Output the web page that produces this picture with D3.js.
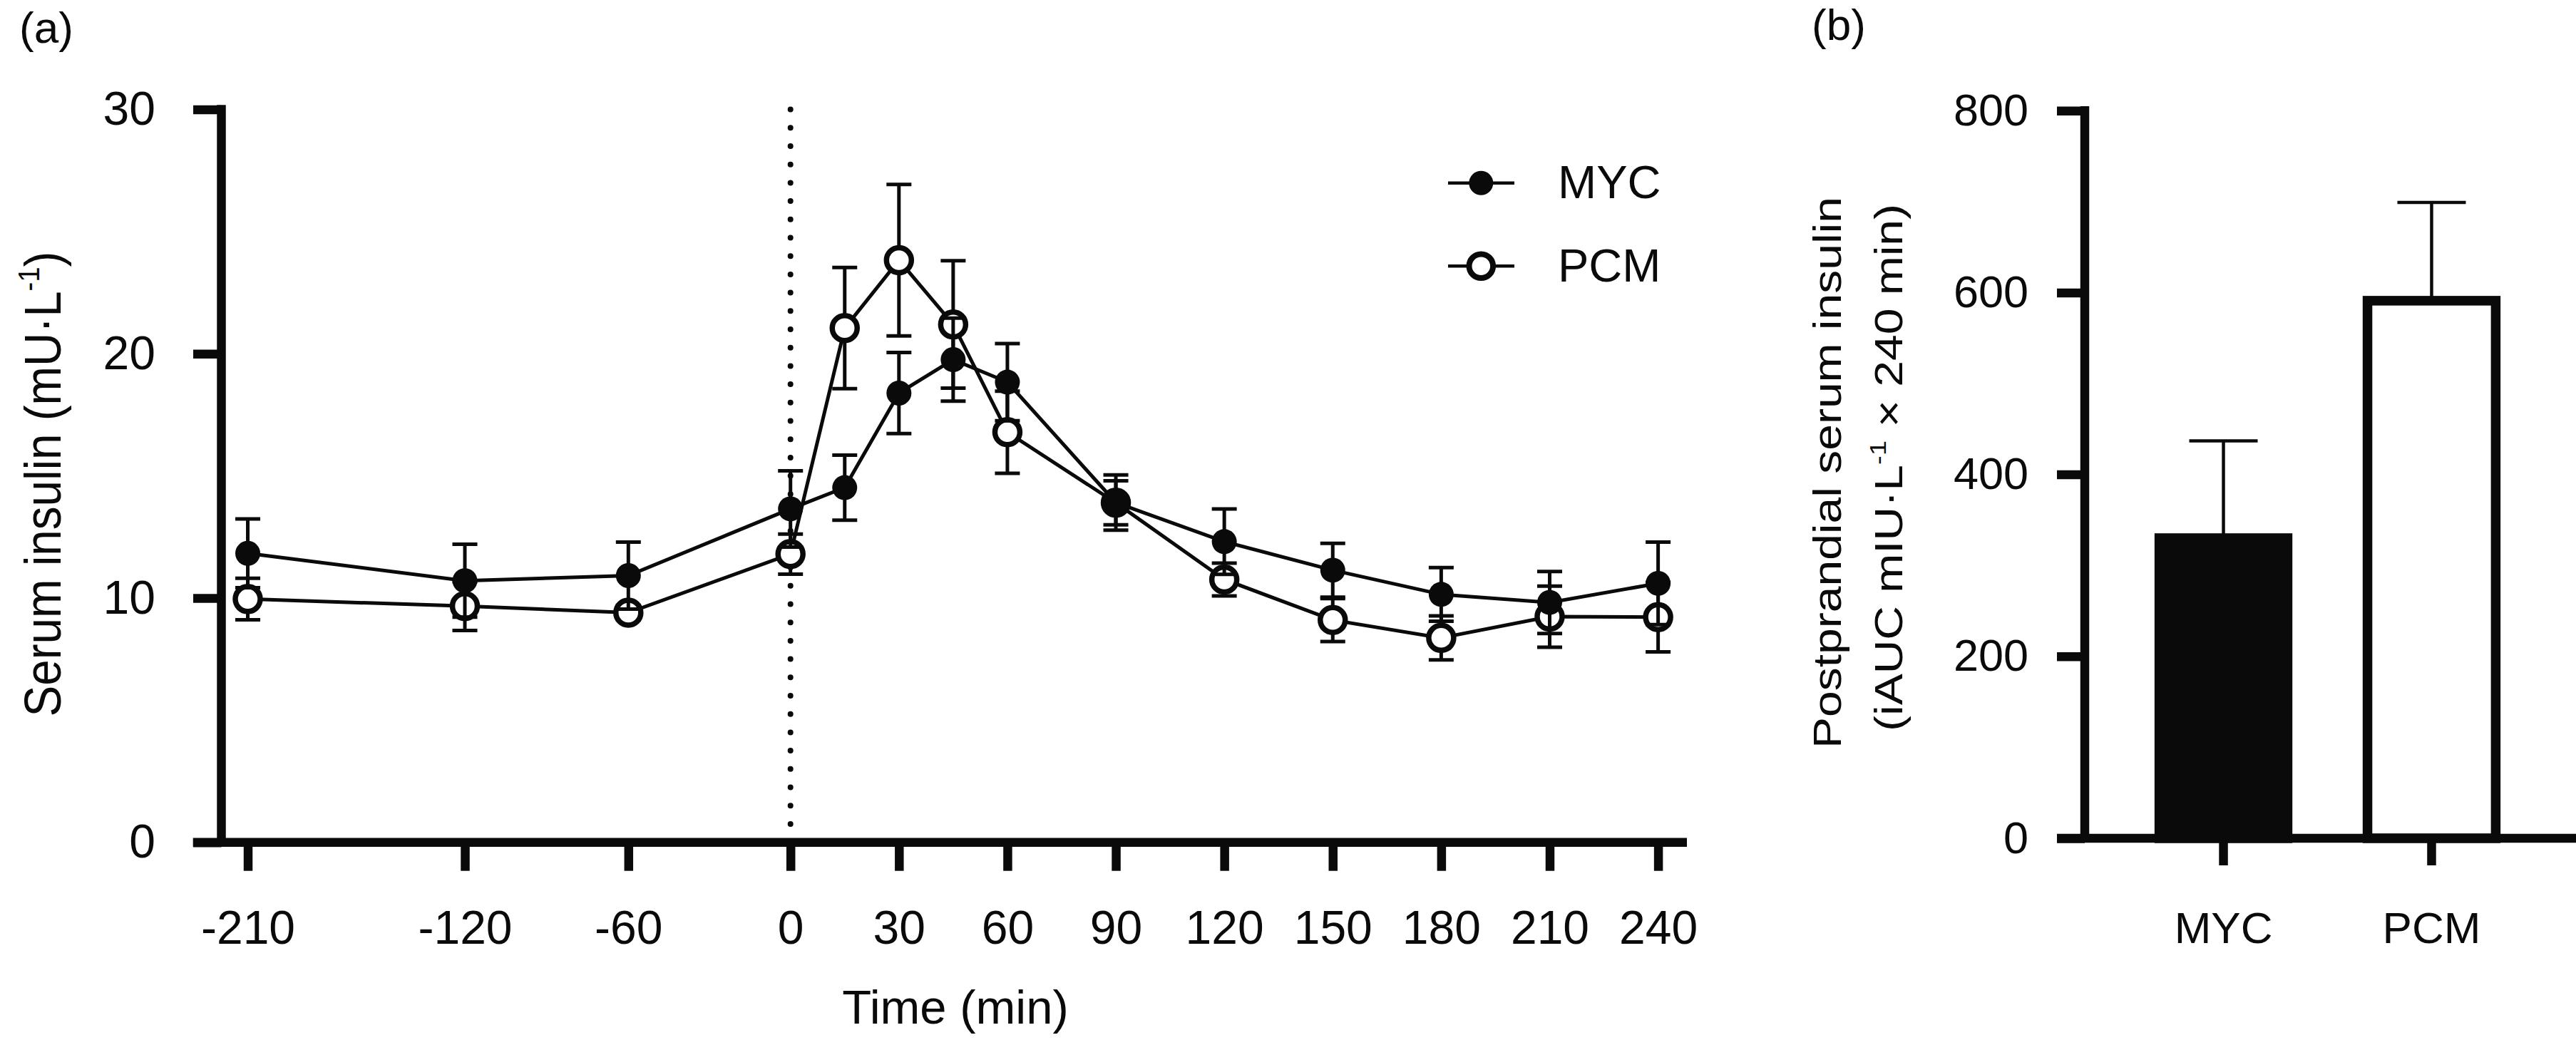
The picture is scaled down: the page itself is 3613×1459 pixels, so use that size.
<!DOCTYPE html>
<html>
<head>
<meta charset="utf-8">
<title>Serum insulin MYC vs PCM</title>
<script src="https://d3js.org/d3.v7.min.js"></script>
<style>
  body { margin: 0; background: #fff; }
  svg text { font-family: "Liberation Sans", Arial, Helvetica, sans-serif; fill: #0a0a0a; }
</style>
</head>
<body>
<svg id="chart" width="3613" height="1459"></svg>
<script>
// (a) serum insulin time course, mean and SEM
var times = [-210, -120, -60, 0, 15, 30, 45, 60, 90, 120, 150, 180, 210, 240];
var mycMean = [11.83, 10.71, 10.92, 13.65, 14.52, 18.39, 19.76, 18.84, 13.91, 12.31, 11.14, 10.15, 9.82, 10.6];
var mycSem  = [1.41, 1.49, 1.37, 1.56, 1.33, 1.66, 1.7, 1.58, 1.13, 1.34, 1.1, 1.1, 1.27, 1.69];
var pcmMean = [9.96, 9.67, 9.4, 11.8, 21.05, 23.83, 21.2, 16.79, 13.9, 10.76, 9.1, 8.37, 9.24, 9.22];
var pcmSem  = [0.85, 1.0, 0.3, 0.82, 2.48, 3.1, 2.61, 1.68, 0.9, 0.67, 0.88, 0.9, 1.25, 1.42];
var timeTicks = [-210, -120, -60, 0, 30, 60, 90, 120, 150, 180, 210, 240];
var insulinTicks = [0, 10, 20, 30];

// (b) postprandial iAUC
var groups = ["MYC", "PCM"];
var aucMean = [330, 591];
var aucSem = [107, 108];
var aucTicks = [0, 200, 400, 600, 800];

var ink = "#0a0a0a";
var svg = d3.select("#chart");

// ---------- panel (a) ----------
// pre-meal samples sit closer together, so x is piecewise linear
var x = d3.scaleLinear()
    .domain([-210, -120, -60, 0, 240])
    .range([347.5, 652, 881.3, 1108.7, 2325.6]);
var y = d3.scaleLinear().domain([0, 30]).range([1181.7, 153.6]);

var ga = svg.append("g");

var yAxisA = ga.append("g")
    .attr("transform", "translate(310.5,0)")
    .call(d3.axisLeft(y).tickValues(insulinTicks).tickSize(39.5).tickPadding(53));
var xAxisA = ga.append("g")
    .attr("transform", "translate(0,1181.7)")
    .call(d3.axisBottom(x).tickValues(timeTicks).tickSize(40).tickPadding(55)
        .tickFormat(function(d) { return String(d); }));

[yAxisA, xAxisA].forEach(function(g) {
    g.select(".domain").remove();
    g.attr("font-size", 66);
    g.selectAll(".tick line").attr("stroke", ink).attr("stroke-width", 12.5);
});

ga.append("line")
    .attr("x1", 310.5).attr("x2", 310.5)
    .attr("y1", y(30) - 6.25).attr("y2", y(0))
    .attr("stroke", ink).attr("stroke-width", 12.5);
ga.append("line")
    .attr("x1", 270.7).attr("x2", 2366)
    .attr("y1", y(0)).attr("y2", y(0))
    .attr("stroke", ink).attr("stroke-width", 12.5);

// meal at t = 0
ga.append("line")
    .attr("x1", x(0)).attr("x2", x(0))
    .attr("y1", y(30)).attr("y2", y(0) - 8)
    .attr("stroke", ink).attr("stroke-width", 8)
    .attr("stroke-linecap", "round")
    .attr("stroke-dasharray", "0 25.7");

var line = d3.line()
    .x(function(d) { return x(d.t); })
    .y(function(d) { return y(d.m); });

function drawSeries(mean, sem, filled) {
    var pts = times.map(function(t, i) { return { t: t, m: mean[i], s: sem[i] }; });
    var g = ga.append("g");
    var eb = g.selectAll(".eb").data(pts).enter().append("g")
        .attr("stroke", ink).attr("stroke-width", 5);
    eb.append("line")
        .attr("x1", function(d) { return x(d.t); }).attr("x2", function(d) { return x(d.t); })
        .attr("y1", function(d) { return y(d.m - d.s); }).attr("y2", function(d) { return y(d.m + d.s); });
    eb.append("line")
        .attr("x1", function(d) { return x(d.t) - 17.5; }).attr("x2", function(d) { return x(d.t) + 17.5; })
        .attr("y1", function(d) { return y(d.m + d.s); }).attr("y2", function(d) { return y(d.m + d.s); });
    eb.append("line")
        .attr("x1", function(d) { return x(d.t) - 17.5; }).attr("x2", function(d) { return x(d.t) + 17.5; })
        .attr("y1", function(d) { return y(d.m - d.s); }).attr("y2", function(d) { return y(d.m - d.s); });
    g.append("path").datum(pts)
        .attr("d", line).attr("fill", "none")
        .attr("stroke", ink).attr("stroke-width", 5);
    g.selectAll("circle").data(pts).enter().append("circle")
        .attr("cx", function(d) { return x(d.t); })
        .attr("cy", function(d) { return y(d.m); })
        .attr("r", filled ? 17.5 : 17.5)
        .attr("fill", filled ? ink : "#fff")
        .attr("stroke", filled ? "none" : ink)
        .attr("stroke-width", 7.5);
}
drawSeries(pcmMean, pcmSem, false);
drawSeries(mycMean, mycSem, true);

// legend
var legend = ga.append("g");
[["MYC", 256.7, true], ["PCM", 373.3, false]].forEach(function(L) {
    legend.append("line")
        .attr("x1", 2031).attr("x2", 2124).attr("y1", L[1]).attr("y2", L[1])
        .attr("stroke", ink).attr("stroke-width", 4.5);
    legend.append("circle")
        .attr("cx", 2077.3).attr("cy", L[1])
        .attr("r", L[2] ? 17 : 16.8)
        .attr("fill", L[2] ? ink : "#fff")
        .attr("stroke", L[2] ? "none" : ink)
        .attr("stroke-width", 8);
    legend.append("text")
        .attr("x", 2185).attr("y", L[1] + 21.6)
        .attr("font-size", 65).text(L[0]);
});

// titles
ga.append("text").attr("x", 27).attr("y", 60).attr("font-size", 62).text("(a)");
ga.append("text").attr("x", 1340).attr("y", 1436)
    .attr("font-size", 67).attr("text-anchor", "middle").text("Time (min)");

var yt = ga.append("text")
    .attr("transform", "translate(85,679) rotate(-90) scale(0.91,1)")
    .attr("font-size", 72).attr("text-anchor", "middle");
yt.append("tspan").text("Serum insulin (mU\u00B7L");
yt.append("tspan").attr("font-size", 42).attr("dy", -30).text("-1");
yt.append("tspan").attr("dy", 30).text(")");

// ---------- panel (b) ----------
var xb = d3.scaleBand().domain(groups)
    .range([2920, 3609]).paddingInner(0.384).paddingOuter(0.372);
var yb = d3.scaleLinear().domain([0, 800]).range([1176, 155.2]);

var gb = svg.append("g");
var bars = groups.map(function(g, i) { return { g: g, m: aucMean[i], s: aucSem[i] }; });

gb.selectAll(".eb").data(bars).enter().append("g")
    .attr("stroke", ink).attr("stroke-width", 4.5)
    .each(function(d) {
        var cx = xb(d.g) + xb.bandwidth() / 2;
        d3.select(this).append("line")
            .attr("x1", cx).attr("x2", cx).attr("y1", yb(d.m)).attr("y2", yb(d.m + d.s));
        d3.select(this).append("line")
            .attr("x1", cx - 48).attr("x2", cx + 48).attr("y1", yb(d.m + d.s)).attr("y2", yb(d.m + d.s));
    });

gb.selectAll("rect").data(bars).enter().append("rect")
    .attr("x", function(d) { return xb(d.g); })
    .attr("y", function(d) { return yb(d.m); })
    .attr("width", xb.bandwidth())
    .attr("height", function(d) { return yb(0) - yb(d.m); })
    .attr("fill", function(d, i) { return i === 0 ? ink : "#fff"; })
    .attr("stroke", ink).attr("stroke-width", 13.5);

var yAxisB = gb.append("g")
    .attr("transform", "translate(2924,0)")
    .call(d3.axisLeft(yb).tickValues(aucTicks).tickSize(39).tickPadding(40));
var xAxisB = gb.append("g")
    .attr("transform", "translate(0,1176)")
    .call(d3.axisBottom(xb).tickSize(38).tickPadding(65));
yAxisB.attr("font-size", 63);
xAxisB.attr("font-size", 62);
[yAxisB, xAxisB].forEach(function(g) {
    g.select(".domain").remove();
    g.selectAll(".tick line").attr("stroke", ink).attr("stroke-width", 12.5);
});

gb.append("line")
    .attr("x1", 2924).attr("x2", 2924)
    .attr("y1", yb(800) - 6.25).attr("y2", yb(0))
    .attr("stroke", ink).attr("stroke-width", 12.5);
gb.append("line")
    .attr("x1", 2885).attr("x2", 3613)
    .attr("y1", yb(0)).attr("y2", yb(0))
    .attr("stroke", ink).attr("stroke-width", 12.5);

gb.append("text").attr("x", 2541).attr("y", 56).attr("font-size", 62).text("(b)");

gb.append("text")
    .attr("transform", "translate(2582,663) rotate(-90) scale(1.2,1)")
    .attr("font-size", 55).attr("text-anchor", "middle")
    .text("Postprandial serum insulin");
var yt2 = gb.append("text")
    .attr("transform", "translate(2668,656) rotate(-90) scale(1.2,1)")
    .attr("font-size", 55).attr("text-anchor", "middle");
yt2.append("tspan").text("(iAUC mIU\u00B7L");
yt2.append("tspan").attr("font-size", 32).attr("dy", -23).text("-1");
yt2.append("tspan").attr("dy", 23).text(" \u00D7 240 min)");
</script>
</body>
</html>
